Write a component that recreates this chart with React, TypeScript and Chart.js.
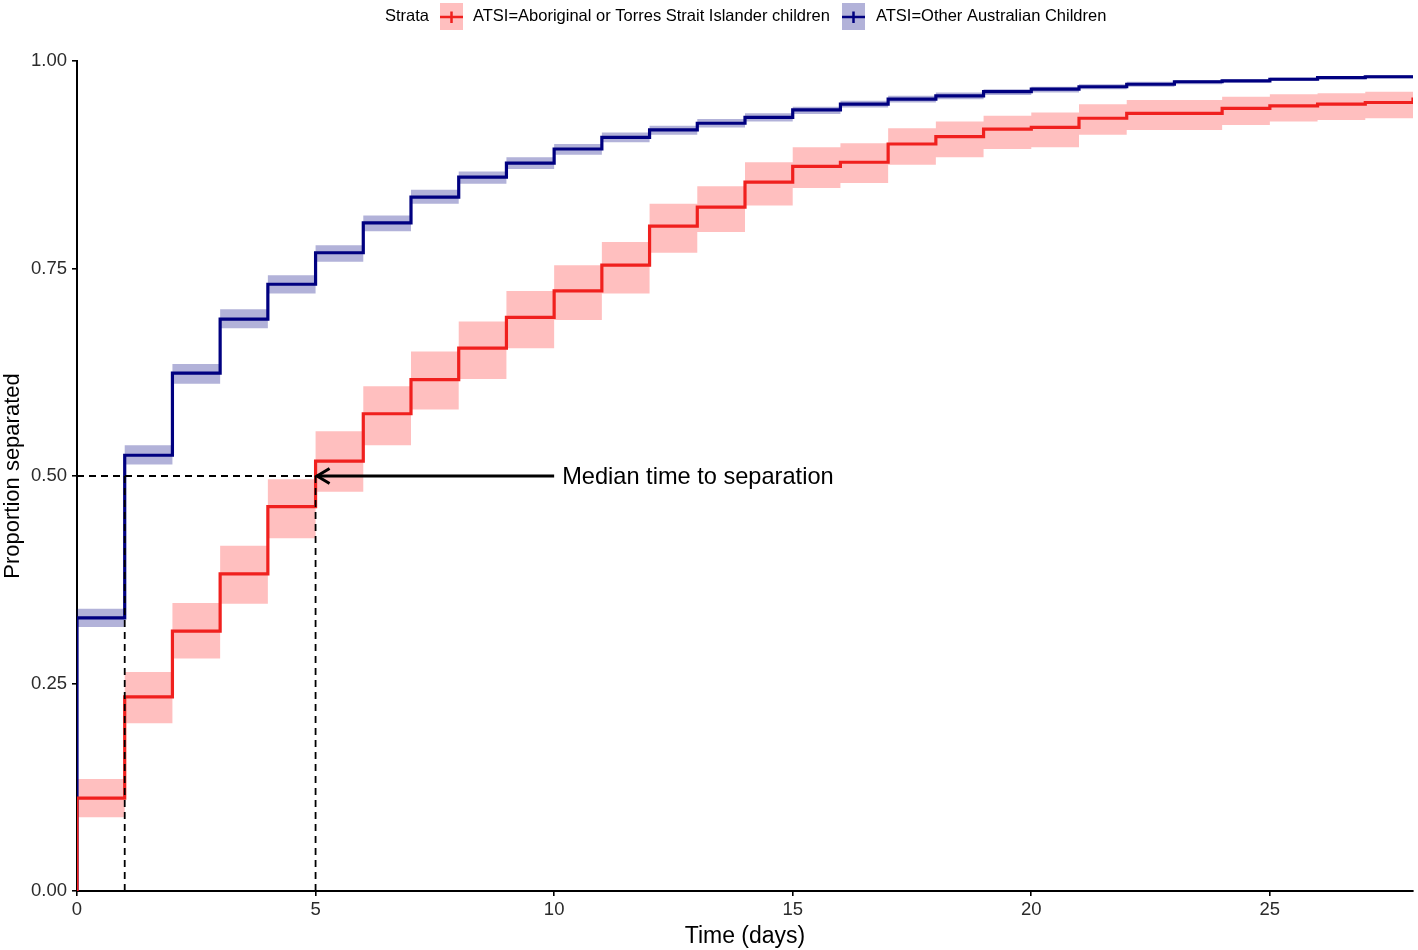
import React, { useEffect, useRef } from 'react';
import { Chart, registerables } from 'chart.js';
Chart.register(...registerables);

// ---- Data ----
const times = [0, 1, 2, 3, 4, 5, 6, 7, 8, 9, 10, 11, 12, 13, 14, 15, 16, 17, 18, 19, 20, 21, 22, 23, 24, 25, 26, 27, 28];

const atsiEst = [0.112, 0.234, 0.313, 0.382, 0.463, 0.518, 0.575, 0.616, 0.654, 0.691, 0.723, 0.754, 0.801, 0.824, 0.854, 0.873, 0.878, 0.900, 0.909, 0.918, 0.920, 0.931, 0.937, 0.937, 0.943, 0.946, 0.948, 0.950, 0.956];
const atsiUpper = [0.135, 0.264, 0.347, 0.416, 0.496, 0.554, 0.608, 0.650, 0.686, 0.723, 0.754, 0.782, 0.828, 0.849, 0.878, 0.896, 0.901, 0.919, 0.927, 0.934, 0.938, 0.948, 0.953, 0.953, 0.957, 0.960, 0.961, 0.963, 0.963];
const atsiLower = [0.089, 0.202, 0.280, 0.346, 0.425, 0.481, 0.537, 0.580, 0.617, 0.654, 0.688, 0.720, 0.769, 0.794, 0.826, 0.847, 0.853, 0.875, 0.884, 0.894, 0.896, 0.911, 0.917, 0.917, 0.923, 0.927, 0.929, 0.931, 0.931];

const otherEst = [0.329, 0.525, 0.624, 0.689, 0.731, 0.769, 0.805, 0.836, 0.860, 0.877, 0.894, 0.908, 0.917, 0.925, 0.932, 0.941, 0.948, 0.954, 0.958, 0.963, 0.966, 0.969, 0.972, 0.975, 0.976, 0.978, 0.980, 0.981, 0.981];
const otherUpper = [0.340, 0.537, 0.635, 0.701, 0.742, 0.778, 0.814, 0.845, 0.867, 0.884, 0.900, 0.914, 0.922, 0.930, 0.937, 0.945, 0.952, 0.958, 0.962, 0.966, 0.969, 0.972, 0.975, 0.977, 0.978, 0.980, 0.982, 0.983, 0.983];
const otherLower = [0.318, 0.514, 0.611, 0.678, 0.720, 0.758, 0.795, 0.828, 0.852, 0.870, 0.887, 0.902, 0.911, 0.920, 0.927, 0.936, 0.944, 0.950, 0.954, 0.959, 0.962, 0.966, 0.969, 0.972, 0.974, 0.976, 0.978, 0.979, 0.979];

const xTickValues = [0, 5, 10, 15, 20, 25];
const yTickValues = [0, 0.25, 0.5, 0.75, 1.0];

const medianTimes = [1, 5];
const medianLevel = 0.5;
const arrowFrom = 10;
const arrowTo = 5;
const annotationText = 'Median time to separation';

const legendTitle = 'Strata';
const atsiLabel = 'ATSI=Aboriginal or Torres Strait Islander children';
const otherLabel = 'ATSI=Other Australian Children';

const RED = '#F0201E';
const RED_BAND = 'rgba(255,0,0,0.25)';
const NAVY = '#000080';
const NAVY_BAND = 'rgba(0,0,128,0.3)';
const FONT = "'Liberation Sans', Arial, Helvetica, sans-serif";
const TICK_COLOR = '#2b2b2b';

const overlayPlugin = {
  id: 'overlay',
  afterDatasetsDraw(chart: any) {
    const ctx = chart.ctx;
    const xs = chart.scales.x;
    const ys = chart.scales.y;
    ctx.save();
    // dashed median guides
    ctx.strokeStyle = '#000';
    ctx.lineWidth = 1.8;
    ctx.setLineDash([7, 5]);
    const yMed = ys.getPixelForValue(medianLevel);
    const xMax = xs.getPixelForValue(Math.max(...medianTimes));
    ctx.beginPath();
    ctx.moveTo(xs.getPixelForValue(0), yMed);
    ctx.lineTo(xMax, yMed);
    for (const t of medianTimes) {
      const px = xs.getPixelForValue(t);
      ctx.moveTo(px, ys.getPixelForValue(0));
      ctx.lineTo(px, yMed);
    }
    ctx.stroke();
    ctx.setLineDash([]);
    // arrow
    const ax0 = xs.getPixelForValue(arrowFrom);
    const ax1 = xs.getPixelForValue(arrowTo);
    ctx.lineWidth = 3;
    ctx.beginPath();
    ctx.moveTo(ax0, yMed);
    ctx.lineTo(ax1 + 1, yMed);
    ctx.stroke();
    ctx.beginPath();
    ctx.moveTo(ax1 + 14, yMed - 7.5);
    ctx.lineTo(ax1 + 1.5, yMed);
    ctx.lineTo(ax1 + 14, yMed + 7.5);
    ctx.stroke();
    // annotation text
    ctx.fillStyle = '#000';
    ctx.font = `23.6px ${FONT}`;
    ctx.textAlign = 'left';
    ctx.textBaseline = 'middle';
    ctx.fillText(annotationText, ax0 + 8, yMed + 1);

    // legend
    ctx.font = `16.5px ${FONT}`;
    ctx.fillStyle = '#000';
    ctx.textBaseline = 'middle';
    const ly = 16;
    ctx.fillText(legendTitle, 385, ly);
    const drawKey = (x: number, band: string, line: string) => {
      ctx.fillStyle = band;
      ctx.fillRect(x, 3, 23, 27);
      ctx.strokeStyle = line;
      ctx.lineWidth = 2.5;
      ctx.beginPath();
      ctx.moveTo(x, 17);
      ctx.lineTo(x + 23, 17);
      ctx.moveTo(x + 11.5, 11.5);
      ctx.lineTo(x + 11.5, 23);
      ctx.stroke();
    };
    drawKey(440, RED_BAND, RED);
    ctx.fillStyle = '#000';
    ctx.fillText(atsiLabel, 473, ly);
    drawKey(842, NAVY_BAND, NAVY);
    ctx.fillStyle = '#000';
    ctx.fillText(otherLabel, 876, ly);
    ctx.restore();
  },
};

const stepData = (vals: number[], withOrigin: boolean) => {
  const pts = times.map((t, i) => ({ x: t, y: vals[i] }));
  return withOrigin ? [{ x: 0, y: 0 }, ...pts] : pts;
};

export default function App() {
  const ref = useRef<HTMLCanvasElement | null>(null);
  useEffect(() => {
    document.body.style.margin = '0';
    const canvas = ref.current!;
    const bandBase = { borderWidth: 0, borderColor: 'transparent', pointRadius: 0, stepped: 'before' as const, order: 3 };
    const chart = new Chart(canvas, {
      type: 'line',
      data: {
        datasets: [
          { ...bandBase, label: 'atsiUpper', data: stepData(atsiUpper, false), fill: '+1', backgroundColor: RED_BAND },
          { ...bandBase, label: 'atsiLower', data: stepData(atsiLower, false), fill: false },
          { ...bandBase, label: 'otherUpper', data: stepData(otherUpper, false), fill: '+1', backgroundColor: NAVY_BAND },
          { ...bandBase, label: 'otherLower', data: stepData(otherLower, false), fill: false },
          { label: atsiLabel, data: stepData(atsiEst, true), stepped: 'before', borderColor: RED, borderWidth: 3.2, pointRadius: 0, fill: false, order: 1 },
          { label: otherLabel, data: stepData(otherEst, true), stepped: 'before', borderColor: NAVY, borderWidth: 3.2, pointRadius: 0, fill: false, order: 1 },
        ],
      },
      options: {
        responsive: false,
        animation: false,
        layout: { padding: { top: 61, right: 5, left: 0, bottom: 0 } },
        plugins: { legend: { display: false }, tooltip: { enabled: false } },
        scales: {
          x: {
            type: 'linear',
            min: 0,
            max: 28,
            afterBuildTicks: (s: any) => { s.ticks = xTickValues.map((v) => ({ value: v })); },
            afterFit: (s: any) => { s.height = 59; },
            ticks: { color: TICK_COLOR, font: { family: FONT, size: 18.5 }, padding: 3, callback: (v: any) => String(v) },
            grid: { display: true, drawOnChartArea: false, drawTicks: true, tickLength: 5, color: '#000', lineWidth: 1.6 },
            border: { display: true, color: '#000', width: 2 },
            title: { display: true, text: 'Time (days)', color: '#000', font: { family: FONT, size: 23 }, padding: { top: 0, bottom: 0 } },
          },
          y: {
            type: 'linear',
            min: 0,
            max: 1,
            afterBuildTicks: (s: any) => { s.ticks = yTickValues.map((v) => ({ value: v })); },
            afterFit: (s: any) => { s.width = 77; },
            ticks: { color: TICK_COLOR, font: { family: FONT, size: 18.5 }, padding: 5, callback: (v: any) => Number(v).toFixed(2) },
            grid: { display: true, drawOnChartArea: false, drawTicks: true, tickLength: 5, color: '#000', lineWidth: 1.6 },
            border: { display: true, color: '#000', width: 2 },
            title: { display: true, text: 'Proportion separated', color: '#000', font: { family: FONT, size: 22 }, padding: { top: 0, bottom: 0 } },
          },
        },
      },
      plugins: [overlayPlugin],
    });
    return () => chart.destroy();
  }, []);
  return (
    <div style={{ position: 'absolute', left: 0, top: 0, width: 1418, height: 950 }}>
      <canvas ref={ref} width={1418} height={950} style={{ display: 'block' }} />
    </div>
  );
}
